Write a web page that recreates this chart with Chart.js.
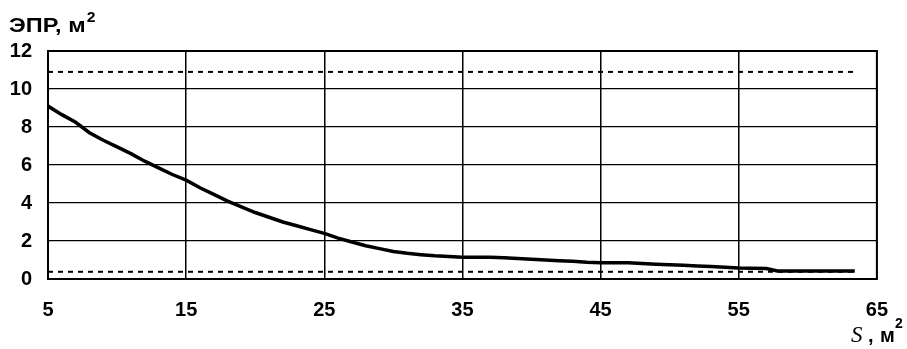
<!DOCTYPE html>
<html>
<head>
<meta charset="utf-8">
<script src="https://cdn.jsdelivr.net/npm/chart.js@4"></script>
<style>
  html, body { margin: 0; padding: 0; background: #fff; }
  #wrap { width: 907px; height: 349px; position: relative; }
</style>
</head>
<body>
<div id="wrap"><canvas id="c" width="907" height="349"></canvas></div>
<script>
// Площадь S, м²
const areaS = [5, 6, 7, 8, 9, 10, 11, 12, 13, 14, 15, 16, 17, 18, 19, 20, 21, 22, 23, 24,
  25, 26, 27, 28, 29, 30, 31, 32, 33, 34, 35, 36, 37, 38, 39, 40, 41, 42, 43, 44,
  45, 46, 47, 48, 49, 50, 51, 52, 53, 54, 55, 56, 57, 57.8, 59, 60, 61, 62, 63.4];
// ЭПР, м²
const eprValues = [9.1, 8.65, 8.25, 7.7, 7.3, 6.95, 6.6, 6.2, 5.85, 5.5, 5.2, 4.8, 4.45, 4.1, 3.8, 3.5,
  3.25, 3.0, 2.8, 2.6, 2.4, 2.15, 1.95, 1.75, 1.6, 1.45, 1.35, 1.28, 1.22, 1.18, 1.15, 1.15,
  1.15, 1.12, 1.08, 1.04, 1.0, 0.96, 0.93, 0.88, 0.85, 0.85, 0.85, 0.82, 0.78, 0.75, 0.72,
  0.69, 0.66, 0.62, 0.58, 0.56, 0.55, 0.42, 0.42, 0.42, 0.42, 0.42, 0.42];
// Границы (пунктир)
const upperLevel = 10.9;
const lowerLevel = 0.38;
const levelRange = [5, 63.3];
// Подписи осей
const xTicks = [5, 15, 25, 35, 45, 55, 65];
const yTicks = [0, 2, 4, 6, 8, 10, 12];

const curve = areaS.map((s, i) => ({ x: s, y: eprValues[i] }));
const levelLine = v => levelRange.map(s => ({ x: s, y: v }));

const FONT = '"Liberation Sans", Arial, sans-serif';

const frameAndTitles = {
  id: 'frameAndTitles',
  afterDatasetsDraw(chart) {
    const { ctx, chartArea: a } = chart;
    ctx.save();
    ctx.strokeStyle = '#000';
    ctx.lineWidth = 2;
    ctx.strokeRect(a.left, a.top, a.right - a.left, a.bottom - a.top);

    // заголовок оси Y (слегка растянут по горизонтали)
    ctx.fillStyle = '#000';
    ctx.textBaseline = 'alphabetic';
    ctx.textAlign = 'left';
    ctx.save();
    ctx.translate(9, 32);
    ctx.scale(1.12, 1);
    ctx.font = 'bold 21px ' + FONT;
    const yt = 'ЭПР, м';
    ctx.fillText(yt, 0, 0);
    const w1 = ctx.measureText(yt).width;
    ctx.font = 'bold 14px ' + FONT;
    ctx.fillText('2', w1 + 1, -10);
    ctx.restore();

    // заголовок оси X
    ctx.font = 'italic 23px "Liberation Serif", "Times New Roman", serif';
    ctx.fillText('S', 851, 342);
    ctx.font = 'bold 20px ' + FONT;
    ctx.fillText(',', 868, 342);
    ctx.fillText('м', 880, 342);
    ctx.font = 'bold 14px ' + FONT;
    ctx.fillText('2', 895, 328);
    ctx.restore();
  }
};

new Chart(document.getElementById('c'), {
  type: 'line',
  data: {
    datasets: [
      { data: curve, borderColor: '#000', borderWidth: 3.5, pointRadius: 0, tension: 0, fill: false },
      { data: levelLine(upperLevel), borderColor: '#000', borderWidth: 2, borderDash: [5, 5], pointRadius: 0, fill: false },
      { data: levelLine(lowerLevel), borderColor: '#000', borderWidth: 2, borderDash: [5, 5], pointRadius: 0, fill: false }
    ]
  },
  options: {
    responsive: false,
    animation: false,
    layout: { padding: { top: 51, right: 15, left: 0, bottom: 0 } },
    plugins: { legend: { display: false }, tooltip: { enabled: false } },
    scales: {
      x: {
        type: 'linear', min: 5, max: 65,
        afterBuildTicks: s => { s.ticks = xTicks.map(v => ({ value: v })); },
        afterFit: s => { s.height = 70; },
        grid: { color: '#000', lineWidth: 1.5, drawTicks: false },
        border: { display: false },
        ticks: { color: '#000', padding: 19, font: { family: FONT, size: 20, weight: 'bold' }, maxRotation: 0 }
      },
      y: {
        type: 'linear', min: 0, max: 12,
        afterBuildTicks: s => { s.ticks = yTicks.map(v => ({ value: v })); },
        afterFit: s => { s.width = 48; },
        grid: { color: '#000', lineWidth: 1.2, drawTicks: false },
        border: { display: false },
        ticks: { color: '#000', padding: 16, font: { family: FONT, size: 20, weight: 'bold' } }
      }
    }
  },
  plugins: [frameAndTitles]
});
</script>
</body>
</html>
